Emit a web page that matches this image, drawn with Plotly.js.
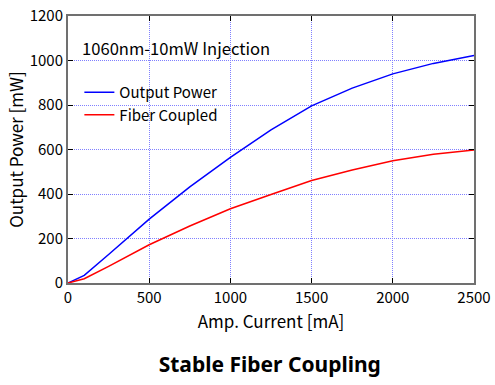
<!DOCTYPE html>
<html><head><meta charset="utf-8">
<script src="https://cdn.plot.ly/plotly-3.0.1.min.js"></script>
<style>html,body{margin:0;padding:0;background:#fff}</style>
</head><body>
<div id="chart" style="width:495px;height:385px"></div>
<script>
var current = [0, 100, 250, 500, 750, 1000, 1250, 1500, 1750, 2000, 2250, 2500];
var outputPower = [0, 34, 128, 287, 432, 565, 688, 796, 876, 940, 987, 1022];
var fiberCoupled = [0, 19, 75, 172, 256, 334, 398, 461, 508, 549, 579, 598];

var font = "Noto Sans CJK JP, sans-serif";
var traces = [
  {x: current, y: outputPower, mode: 'lines', name: 'Output Power', line: {color: '#0000ff', width: 1.5}},
  {x: current, y: fiberCoupled, mode: 'lines', name: 'Fiber Coupled', line: {color: '#ff0000', width: 1.5}}
];
var gridCol = '#8080ff';
var layout = {
  width: 495, height: 385,
  margin: {l: 67.5, r: 21, t: 15.5, b: 102},
  paper_bgcolor: '#fff', plot_bgcolor: '#fff',
  font: {family: font, size: 14, color: '#000'},
  showlegend: true,
  legend: {x: 0.028, y: 0.775, xanchor: 'left', yanchor: 'top', bgcolor: 'rgba(0,0,0,0)', font: {size: 15}, tracegroupgap: 0},
  title: {text: '<b>Stable Fiber Coupling</b>', x: 0.545, xanchor: 'center', y: 0.052, yanchor: 'middle', yref: 'container',
          font: {family: 'Noto Sans, sans-serif', size: 21, color: '#000'}},
  xaxis: {range: [0, 2500], tickvals: [0, 500, 1000, 1500, 2000, 2500], ticks: 'inside', ticklen: 5, tickcolor: '#000',
          showline: true, linecolor: '#707070', linewidth: 2, mirror: 'ticks', zeroline: false,
          showgrid: true, gridcolor: gridCol, griddash: '1px,1px', gridwidth: 1,
          tickfont: {size: 15}, title: {text: 'Amp. Current [mA]', font: {size: 17}, standoff: 10}},
  yaxis: {range: [0, 1200], tickvals: [0, 200, 400, 600, 800, 1000, 1200], ticks: 'inside', ticklen: 5, tickcolor: '#000',
          showline: true, linecolor: '#707070', linewidth: 2, mirror: 'ticks', zeroline: false,
          showgrid: true, gridcolor: gridCol, griddash: '1px,1px', gridwidth: 1,
          tickfont: {size: 15}, title: {text: 'Output Power [mW]', font: {size: 17}, standoff: 2}},
  annotations: [
    {text: '1060nm-10mW Injection', xref: 'paper', yref: 'paper', x: 0.03, y: 0.88, xanchor: 'left', yanchor: 'middle',
     showarrow: false, font: {size: 16.6}}
  ]
};
Plotly.newPlot('chart', traces, layout, {displayModeBar: false, staticPlot: true});
</script>
</body></html>
